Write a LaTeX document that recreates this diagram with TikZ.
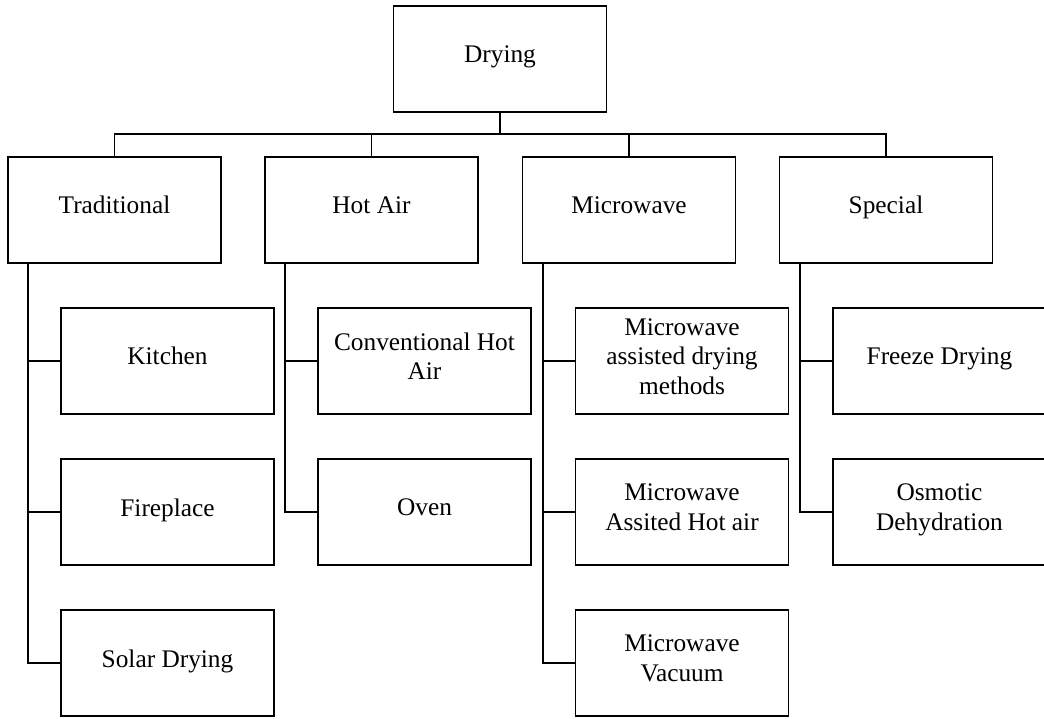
\documentclass[tikz,border=0pt]{standalone}
\usepackage{fontspec}
\setmainfont{Liberation Serif}
\usetikzlibrary{calc}
\begin{document}
\begin{tikzpicture}[x=0.75pt,y=-0.75pt,
  every node/.style={font=\fontsize{19pt}{22.1pt}\selectfont},
  box/.style={draw, line width=1.25pt, minimum width=159.75pt, minimum height=79.5pt,
    inner sep=0pt, align=center, text depth=7.2pt},
  link/.style={line width=1.25pt}]
\useasboundingbox (0,0) rectangle (1044,718);
\clip (0,0) rectangle (1044,718);

% root
\node[box] (drying) at (500,59) {Drying};

% main categories
\node[box] (trad)    at (114.5,210) {Traditional};
\node[box] (hotair)  at (371.5,210) {Hot Air};
\node[box] (micro)   at (629,210)   {Microwave};
\node[box] (special) at (886,210)   {Special};

% traditional methods
\node[box] (kitchen)   at (167.5,361) {Kitchen};
\node[box] (fireplace) at (167.5,512) {Fireplace};
\node[box] (solar)     at (167.5,663) {Solar Drying};

% hot air methods
\node[box] (conv) at (424.5,361) {Conventional Hot\\Air};
\node[box] (oven) at (424.5,512) {Oven};

% microwave methods
\node[box] (mwassist) at (682,361) {Microwave\\assisted drying\\methods};
\node[box] (mwhot)    at (682,512) {Microwave\\Assited Hot air};
\node[box] (mwvac)    at (682,663) {Microwave\\Vacuum};

% special methods
\node[box] (freeze)  at (939.5,361) {Freeze Drying};
\node[box] (osmotic) at (939.5,512) {Osmotic\\Dehydration};

% bus from the root to the categories
\coordinate (bus) at (500,134);
\draw[link] (drying.south) -- (bus);
\draw[link] (trad.north) -- (trad.north |- bus) -- (special.north |- bus) -- (special.north);
\draw[link] (hotair.north) -- (hotair.north |- bus);
\draw[link] (micro.north) -- (micro.north |- bus);

% trunks from each category to its methods
\coordinate (tradT)    at ($(trad.south west)+(21,0)$);
\coordinate (hotairT)  at ($(hotair.south west)+(21,0)$);
\coordinate (microT)   at ($(micro.south west)+(21,0)$);
\coordinate (specialT) at ($(special.south west)+(21,0)$);

\draw[link] (tradT) |- (solar.west);
\draw[link] (tradT |- kitchen.west) -- (kitchen.west);
\draw[link] (tradT |- fireplace.west) -- (fireplace.west);

\draw[link] (hotairT) |- (oven.west);
\draw[link] (hotairT |- conv.west) -- (conv.west);

\draw[link] (microT) |- (mwvac.west);
\draw[link] (microT |- mwassist.west) -- (mwassist.west);
\draw[link] (microT |- mwhot.west) -- (mwhot.west);

\draw[link] (specialT) |- (osmotic.west);
\draw[link] (specialT |- freeze.west) -- (freeze.west);
\end{tikzpicture}
\end{document}
